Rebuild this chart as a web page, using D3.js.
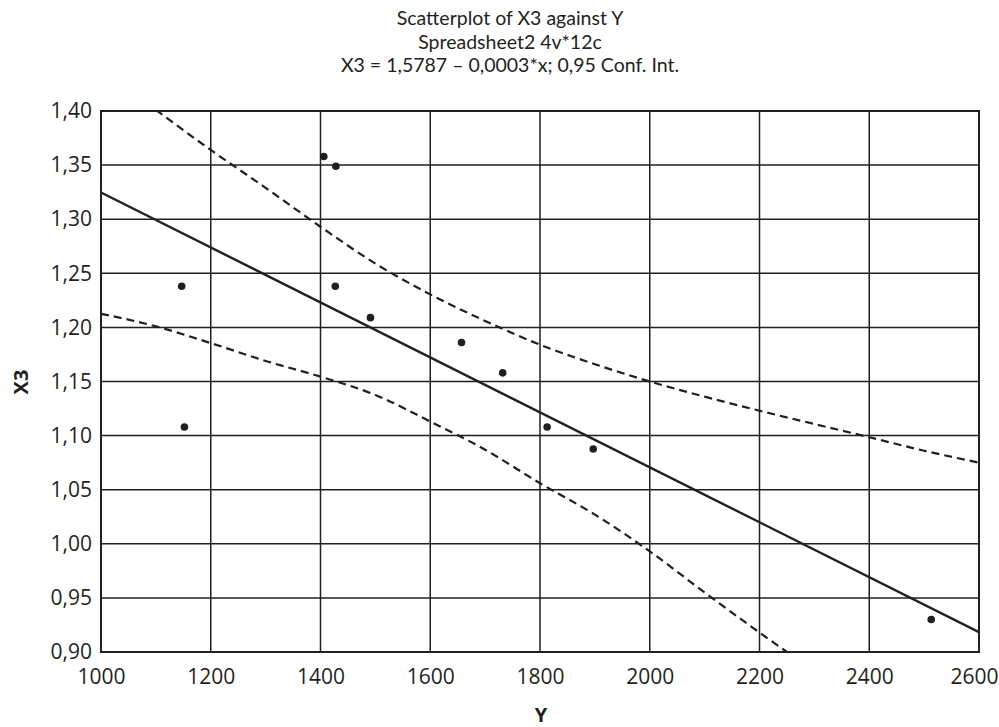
<!DOCTYPE html>
<html><head><meta charset="utf-8">
<script src="https://cdn.jsdelivr.net/npm/d3@7"></script>
<style>
html,body{margin:0;padding:0;background:#fff;}
svg{display:block;font-family:"Open Sans",sans-serif;}
</style></head>
<body><svg id="c" width="999" height="727"></svg>
<script>
// ---- data ----
const titleLines = ["Scatterplot of X3 against Y", "Spreadsheet2 4v*12c", "X3 = 1,5787 \u2013 0,0003*x; 0,95 Conf. Int."];
const xLabel = "Y";
const yLabel = "X3";
const xTicks = [1000, 1200, 1400, 1600, 1800, 2000, 2200, 2400, 2600];
const yTicks = [0.90, 0.95, 1.00, 1.05, 1.10, 1.15, 1.20, 1.25, 1.30, 1.35, 1.40];
const pointY = [1147, 1152, 1406, 1428, 1427, 1491, 1657, 1732, 1813, 1897, 2513];
const pointX3 = [1.238, 1.108, 1.358, 1.349, 1.238, 1.209, 1.186, 1.158, 1.108, 1.0876, 0.930];
const fitIntercept = 1.5787;
const fitSlope = -0.000254;
const fitRange = [1000, 2600];
const upperX = [1100, 1200, 1300, 1400, 1500, 1600, 1700, 1800, 1900, 2000, 2100, 2200, 2300, 2400, 2500, 2600];
const upperV = [1.401, 1.364, 1.329, 1.293, 1.259, 1.2305, 1.206, 1.184, 1.166, 1.150, 1.136, 1.123, 1.1107, 1.0985, 1.086, 1.075];
const lowerX = [1000, 1100, 1200, 1300, 1400, 1500, 1600, 1700, 1800, 1900, 2000, 2100, 2200, 2250];
const lowerV = [1.2126, 1.201, 1.1855, 1.169, 1.1545, 1.1376, 1.113, 1.087, 1.056, 1.027, 0.993, 0.955, 0.918, 0.900];

// ---- layout ----
const svg = d3.select("#c");
const W = 999;
const L = 101, R = 979, T = 111, B = 652;
const x = d3.scaleLinear().domain([1000, 2600]).range([L, R]);
const y = d3.scaleLinear().domain([0.9, 1.4]).range([B, T]);
const loc = d3.formatLocale({decimal: ",", thousands: "", grouping: [3], currency: ["", ""]});
const fy = loc.format(".2f");
const ink = "#231f20";

svg.append("defs").append("clipPath").attr("id", "clip")
  .append("rect").attr("x", L).attr("y", T).attr("width", R - L).attr("height", B - T);

// grid
const g = svg.append("g");
g.selectAll(".vg").data(xTicks.slice(1, -1)).enter().append("line")
  .attr("x1", d => x(d)).attr("x2", d => x(d)).attr("y1", T).attr("y2", B)
  .attr("stroke", ink).attr("stroke-width", 1.5);
g.selectAll(".hg").data(yTicks.slice(1, -1)).enter().append("line")
  .attr("y1", d => y(d)).attr("y2", d => y(d)).attr("x1", L).attr("x2", R)
  .attr("stroke", ink).attr("stroke-width", 1.5);

// axes (labels only)
const xa = svg.append("g").attr("transform", `translate(0,${B})`)
  .call(d3.axisBottom(x).tickValues(xTicks).tickSize(0).tickPadding(17).tickFormat(d3.format("d")));
xa.select(".domain").remove();
xa.selectAll("text").attr("font-size", 21).attr("fill", ink).attr("font-family", "Open Sans");
// keep the last label inside the page
xa.selectAll(".tick").each(function(d) {
  const t = d3.select(this).select("text");
  const bb = this.getBBox();
  const right = x(d) + bb.x + bb.width;
  if (right > W - 1) t.attr("dx", (W - 1 - right) + "px");
});
const ya = svg.append("g").attr("transform", `translate(${L},0)`)
  .call(d3.axisLeft(y).tickValues(yTicks).tickSize(0).tickPadding(9).tickFormat(fy));
ya.select(".domain").remove();
ya.selectAll("text").attr("font-size", 21).attr("fill", ink).attr("font-family", "Open Sans");

// border
svg.append("rect").attr("x", L).attr("y", T).attr("width", R - L).attr("height", B - T)
  .attr("fill", "none").attr("stroke", ink).attr("stroke-width", 2);

const plot = svg.append("g").attr("clip-path", "url(#clip)");
const line = d3.line().x(d => x(d[0])).y(d => y(d[1])).curve(d3.curveMonotoneX);

// fit line
plot.append("path")
  .datum(fitRange.map(v => [v, fitIntercept + fitSlope * v]))
  .attr("d", d3.line().x(d => x(d[0])).y(d => y(d[1])))
  .attr("fill", "none").attr("stroke", ink).attr("stroke-width", 2.4);

// confidence bands
plot.append("path").datum(upperX.map((v, i) => [v, upperV[i]]))
  .attr("d", line).attr("fill", "none").attr("stroke", ink)
  .attr("stroke-width", 2.2).attr("stroke-dasharray", "8,5");
plot.append("path").datum(lowerX.map((v, i) => [v, lowerV[i]]))
  .attr("d", line).attr("fill", "none").attr("stroke", ink)
  .attr("stroke-width", 2.2).attr("stroke-dasharray", "8,5");

// points
svg.append("g").selectAll("circle").data(pointY.map((v, i) => [v, pointX3[i]])).enter()
  .append("circle").attr("cx", d => x(d[0])).attr("cy", d => y(d[1])).attr("r", 3.8).attr("fill", ink);

// titles
svg.append("g").selectAll("text").data(titleLines).enter().append("text")
  .attr("x", 510).attr("y", (d, i) => 25 + i * 23.5)
  .attr("text-anchor", "middle").attr("font-family", "Lato").attr("font-size", 19.5)
  .attr("fill", ink).text(d => d);

svg.append("text").attr("x", 541).attr("y", 722).attr("text-anchor", "middle")
  .attr("font-size", 20).attr("font-weight", "bold").attr("fill", ink).text(xLabel);
svg.append("text").attr("transform", "translate(28,382) rotate(-90)").attr("text-anchor", "middle")
  .attr("font-size", 20).attr("font-weight", "bold").attr("fill", ink).text(yLabel);
</script></body></html>
